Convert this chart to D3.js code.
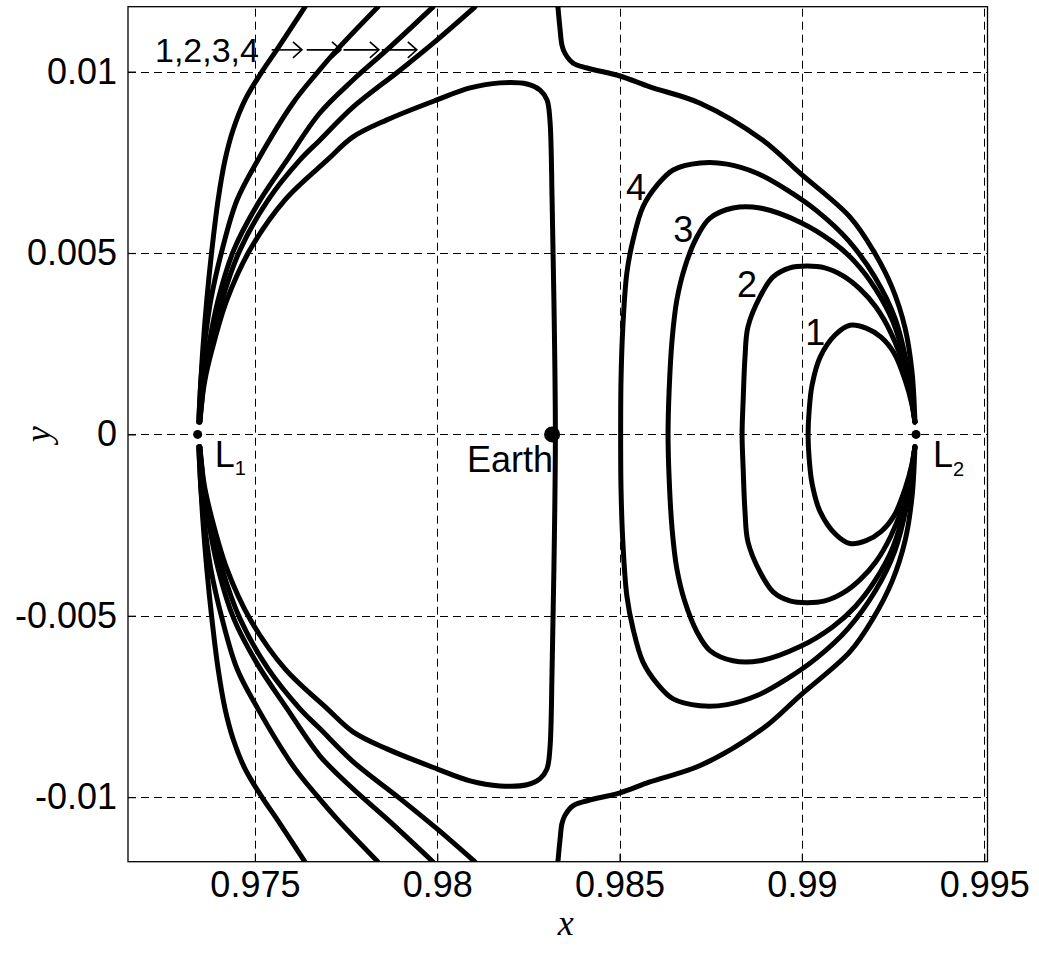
<!DOCTYPE html>
<html><head><meta charset="utf-8">
<script src="https://cdn.jsdelivr.net/npm/d3@7"></script>
<style>body{margin:0;background:#fff} svg{display:block}</style>
</head><body><svg id="c" width="1039" height="953"></svg>
<script>
// ---------- data ----------
const xDomain = [0.97152, 0.99509];
const yDomain = [-0.01178, 0.01179];
const xTicks = [0.975, 0.98, 0.985, 0.99, 0.995];
const yTicks = [-0.01, -0.005, 0, 0.005, 0.01];
const xTickLabels = ["0.975", "0.98", "0.985", "0.99", "0.995"];
const yTickLabels = ["-0.01", "-0.005", "0", "0.005", "0.01"];

// curves leaving L1 towards the top / bottom edge (labelled 1,2,3,4 by the arrows)
const l1UpperA = [[0.97346,0.00034],[0.97349,0.00095],[0.97352,0.00150],[0.97357,0.00232],[0.97368,0.00370],[0.97382,0.00508],[0.97399,0.00646],[0.97418,0.00756],[0.97440,0.00839],[0.97473,0.00922],[0.97522,0.01004],[0.97560,0.01060],[0.97637,0.01178]];
const l1UpperB = [[0.97346,0.00034],[0.97349,0.00095],[0.97352,0.00150],[0.97360,0.00232],[0.97379,0.00370],[0.97410,0.00508],[0.97451,0.00646],[0.97508,0.00756],[0.97604,0.00913],[0.97670,0.00996],[0.97725,0.01060],[0.97837,0.01178]];
const l1UpperC = [[0.97349,0.00034],[0.97352,0.00095],[0.97357,0.00150],[0.97371,0.00232],[0.97399,0.00370],[0.97442,0.00508],[0.97506,0.00632],[0.97588,0.00756],[0.97678,0.00886],[0.97769,0.00977],[0.97862,0.01060],[0.97988,0.01178]];
const l1UpperD = [[0.97349,0.00034],[0.97355,0.00095],[0.97360,0.00150],[0.97377,0.00232],[0.97410,0.00370],[0.97459,0.00508],[0.97536,0.00646],[0.97623,0.00756],[0.97678,0.00811],[0.97769,0.00902],[0.97898,0.01004],[0.97999,0.01087],[0.98103,0.01178]];
const l1LowerA = [[0.97346,-0.00034],[0.97349,-0.00095],[0.97352,-0.00150],[0.97357,-0.00232],[0.97368,-0.00370],[0.97382,-0.00508],[0.97399,-0.00646],[0.97418,-0.00756],[0.97440,-0.00839],[0.97473,-0.00922],[0.97522,-0.01004],[0.97560,-0.01060],[0.97637,-0.01178]];
const l1LowerB = [[0.97346,-0.00034],[0.97349,-0.00095],[0.97352,-0.00150],[0.97360,-0.00232],[0.97379,-0.00370],[0.97410,-0.00508],[0.97451,-0.00646],[0.97508,-0.00756],[0.97604,-0.00913],[0.97670,-0.00996],[0.97725,-0.01060],[0.97837,-0.01178]];
const l1LowerC = [[0.97349,-0.00034],[0.97352,-0.00095],[0.97357,-0.00150],[0.97371,-0.00232],[0.97399,-0.00370],[0.97442,-0.00508],[0.97506,-0.00632],[0.97588,-0.00756],[0.97678,-0.00886],[0.97769,-0.00977],[0.97862,-0.01060],[0.97988,-0.01178]];
const l1LowerD = [[0.97349,-0.00034],[0.97355,-0.00095],[0.97360,-0.00150],[0.97377,-0.00232],[0.97410,-0.00370],[0.97459,-0.00508],[0.97536,-0.00646],[0.97623,-0.00756],[0.97678,-0.00811],[0.97769,-0.00902],[0.97898,-0.01004],[0.97999,-0.01087],[0.98103,-0.01178]];

// closed region L1 - Earth
const earthRegion = [[0.97349,0.00034],[0.97355,0.00095],[0.97363,0.00150],[0.97382,0.00232],[0.97423,0.00370],[0.97486,0.00508],[0.97582,0.00646],[0.97698,0.00756],[0.97769,0.00820],[0.97862,0.00867],[0.97999,0.00922],[0.98090,0.00955],[0.98172,0.00969],[0.98246,0.00966],[0.98282,0.00949],[0.98301,0.00922],[0.98309,0.00867],[0.98315,0.00646],[0.98320,0.00370],[0.98324,0],
  [0.98320,-0.00370],[0.98315,-0.00646],[0.98309,-0.00867],[0.98301,-0.00922],[0.98282,-0.00949],[0.98246,-0.00966],[0.98172,-0.00969],[0.98090,-0.00955],[0.97999,-0.00922],[0.97862,-0.00867],[0.97769,-0.00820],[0.97698,-0.00756],[0.97582,-0.00646],[0.97486,-0.00508],[0.97423,-0.00370],[0.97382,-0.00232],[0.97363,-0.00150],[0.97355,-0.00095],[0.97349,-0.00034]];

// outer curve through L2
const outerUpper = [[0.98331,0.01178],[0.98337,0.01115],[0.98342,0.01073],[0.98350,0.01051],[0.98372,0.01024],[0.98411,0.01010],[0.98501,0.00988],[0.98583,0.00958],[0.98721,0.00913],[0.98893,0.00811],[0.98995,0.00720],[0.99132,0.00599],[0.99195,0.00508],[0.99247,0.00406],[0.99283,0.00293],[0.99302,0.00172],[0.99310,0.00034]];
const outerLower = [[0.98331,-0.01178],[0.98337,-0.01115],[0.98342,-0.01073],[0.98350,-0.01051],[0.98372,-0.01024],[0.98411,-0.01010],[0.98501,-0.00988],[0.98583,-0.00958],[0.98721,-0.00913],[0.98893,-0.00811],[0.98995,-0.00720],[0.99132,-0.00599],[0.99195,-0.00508],[0.99247,-0.00406],[0.99283,-0.00293],[0.99302,-0.00172],[0.99310,-0.00034]];

// loops 1..4 around L2
const loop1 = [[0.99310,0.00034],[0.99302,0.00081],[0.99283,0.00150],[0.99253,0.00224],[0.99217,0.00268],[0.99176,0.00293],[0.99132,0.00301],[0.99091,0.00274],[0.99050,0.00213],[0.99028,0.00136],[0.99020,0.00067],[0.99017,0],
  [0.99020,-0.00067],[0.99028,-0.00136],[0.99050,-0.00213],[0.99091,-0.00274],[0.99132,-0.00301],[0.99176,-0.00293],[0.99217,-0.00268],[0.99253,-0.00224],[0.99283,-0.00150],[0.99302,-0.00081],[0.99310,-0.00034]];
const loop2 = [[0.99310,0.00034],[0.99283,0.00177],[0.99244,0.00280],[0.99203,0.00351],[0.99159,0.00401],[0.99113,0.00437],[0.99063,0.00459],[0.99014,0.00464],[0.98967,0.00459],[0.98921,0.00434],[0.98885,0.00379],[0.98852,0.00296],[0.98844,0.00213],[0.98839,0.00095],[0.98836,0],
  [0.98839,-0.00095],[0.98844,-0.00213],[0.98852,-0.00296],[0.98885,-0.00379],[0.98921,-0.00434],[0.98967,-0.00459],[0.99014,-0.00464],[0.99063,-0.00459],[0.99113,-0.00437],[0.99159,-0.00401],[0.99203,-0.00351],[0.99244,-0.00280],[0.99283,-0.00177],[0.99310,-0.00034]];
const loop3 = [[0.99310,0.00034],[0.99288,0.00177],[0.99250,0.00310],[0.99200,0.00404],[0.99146,0.00475],[0.99085,0.00530],[0.98995,0.00585],[0.98885,0.00624],[0.98811,0.00624],[0.98748,0.00596],[0.98712,0.00544],[0.98679,0.00461],[0.98657,0.00370],[0.98644,0.00260],[0.98636,0.00122],[0.98633,0],
  [0.98636,-0.00122],[0.98644,-0.00260],[0.98657,-0.00370],[0.98679,-0.00461],[0.98712,-0.00544],[0.98748,-0.00596],[0.98811,-0.00624],[0.98885,-0.00624],[0.98995,-0.00585],[0.99085,-0.00530],[0.99146,-0.00475],[0.99200,-0.00404],[0.99250,-0.00310],[0.99288,-0.00177],[0.99310,-0.00034]];
const loop4 = [[0.99310,0.00034],[0.99291,0.00177],[0.99255,0.00321],[0.99200,0.00434],[0.99126,0.00536],[0.99041,0.00616],[0.98959,0.00674],[0.98877,0.00720],[0.98795,0.00745],[0.98721,0.00748],[0.98647,0.00729],[0.98603,0.00687],[0.98564,0.00627],[0.98537,0.00536],[0.98520,0.00445],[0.98509,0.00296],[0.98504,0.00150],[0.98503,0],
  [0.98504,-0.00150],[0.98509,-0.00296],[0.98520,-0.00445],[0.98537,-0.00536],[0.98564,-0.00627],[0.98603,-0.00687],[0.98647,-0.00729],[0.98721,-0.00748],[0.98795,-0.00745],[0.98877,-0.00720],[0.98959,-0.00674],[0.99041,-0.00616],[0.99126,-0.00536],[0.99200,-0.00434],[0.99255,-0.00321],[0.99291,-0.00177],[0.99310,-0.00034]];

// special points
const pointNames = ["L1", "Earth", "L2"];
const pointX = [0.97343, 0.98315, 0.99313];
const pointY = [0, 0, 0];

// loop number labels (left/baseline of label text, data units)
const loopLabels = ["1", "2", "3", "4"];
const loopLabelX = [0.99009, 0.98822, 0.98647, 0.98518];
const loopLabelY = [0.00246, 0.00379, 0.00530, 0.00646];

// arrow annotation
const arrowText = "1,2,3,4";
const arrowTextX = 0.97226;
const arrowStartX = [0.97546, 0.97642, 0.97743, 0.97848];
const arrowEndX   = [0.97629, 0.97736, 0.97840, 0.97944];
const arrowY = 0.01060;

// ---------- drawing ----------
const svg = d3.select("#c");
const plot = {left:128, right:987.5, top:6.7, bottom:861.7};
const x = d3.scaleLinear().domain(xDomain).range([plot.left, plot.right]);
const y = d3.scaleLinear().domain(yDomain).range([plot.bottom, plot.top]);
const FONT = "'Liberation Sans', Arial, sans-serif";
const FS = 36;

svg.append("rect").attr("width",1039).attr("height",953).attr("fill","#fff");

svg.append("defs").append("clipPath").attr("id","clip")
  .append("rect").attr("x",plot.left).attr("y",plot.top)
  .attr("width",plot.right-plot.left).attr("height",plot.bottom-plot.top);

// grid
const grid = svg.append("g").attr("stroke","#000").attr("stroke-width",1).attr("stroke-dasharray","8,5");
grid.selectAll(".gx").data(xTicks).join("line")
  .attr("x1",d=>Math.round(x(d))+0.5).attr("x2",d=>Math.round(x(d))+0.5)
  .attr("y1",plot.bottom).attr("y2",plot.top);
grid.selectAll(".gy").data(yTicks).join("line")
  .attr("y1",d=>Math.round(y(d))+0.5).attr("y2",d=>Math.round(y(d))+0.5)
  .attr("x1",plot.left).attr("x2",plot.right);

// axes
const xAxis = d3.axisBottom(x).tickValues(xTicks).tickFormat((d,i)=>xTickLabels[i]).tickSizeInner(-8).tickSizeOuter(0).tickPadding(10);
const yAxis = d3.axisLeft(y).tickValues(yTicks).tickFormat((d,i)=>yTickLabels[i]).tickSizeInner(-8).tickSizeOuter(0).tickPadding(11);
const gx = svg.append("g").attr("transform",`translate(0,${plot.bottom})`).call(xAxis);
const gy = svg.append("g").attr("transform",`translate(${plot.left},0)`).call(yAxis);
[gx,gy].forEach(g=>{
  g.select(".domain").remove();
  g.selectAll("line").attr("stroke","#000").attr("stroke-width",1.2);
  g.selectAll("text").attr("font-family",FONT).attr("font-size",FS).attr("fill","#000");
});
// box
svg.append("rect").attr("x",plot.left).attr("y",plot.top)
  .attr("width",plot.right-plot.left).attr("height",plot.bottom-plot.top)
  .attr("fill","none").attr("stroke","#000").attr("stroke-width",1.3);

// curves
const line = d3.line().x(d=>x(d[0])).y(d=>y(d[1])).curve(d3.curveCatmullRom.alpha(0.5));
const curves = [l1UpperA,l1UpperB,l1UpperC,l1UpperD,l1LowerA,l1LowerB,l1LowerC,l1LowerD,
  earthRegion,outerUpper,outerLower,loop1,loop2,loop3,loop4];
svg.append("g").attr("clip-path","url(#clip)")
  .selectAll("path").data(curves).join("path")
  .attr("d",line).attr("fill","none").attr("stroke","#000")
  .attr("stroke-width",5).attr("stroke-linejoin","round").attr("stroke-linecap","round");

// points
const pts = pointNames.map((n,i)=>({n, x:pointX[i], y:pointY[i]}));
svg.append("g").selectAll("circle").data(pts).join("circle")
  .attr("cx",d=>x(d.x)).attr("cy",d=>y(d.y))
  .attr("r",d=>d.n==="Earth"?8:4.5).attr("fill","#000");

// point labels
const t1 = svg.append("text").attr("x",x(pointX[0])+17).attr("y",y(0)+33)
  .attr("font-family",FONT).attr("font-size",FS);
t1.append("tspan").text("L");
t1.append("tspan").attr("font-size",20).attr("dy",8).text("1");
const t2 = svg.append("text").attr("x",x(pointX[2])+17).attr("y",y(0)+33)
  .attr("font-family",FONT).attr("font-size",FS);
t2.append("tspan").text("L");
t2.append("tspan").attr("font-size",20).attr("dy",9).text("2");
svg.append("text").attr("x",x(pointX[1])+1).attr("y",y(0)+38).attr("text-anchor","end")
  .attr("font-family",FONT).attr("font-size",FS).text("Earth");

// loop labels
svg.append("g").selectAll("text").data(loopLabels).join("text")
  .attr("x",(d,i)=>x(loopLabelX[i])).attr("y",(d,i)=>y(loopLabelY[i]))
  .attr("font-family",FONT).attr("font-size",FS).text(d=>d);

// arrow annotation
svg.append("text").attr("x",x(arrowTextX)).attr("y",y(arrowY)+12)
  .attr("font-family",FONT).attr("font-size",34).text(arrowText);
const ag = svg.append("g").attr("stroke","#000").attr("stroke-width",1.6).attr("fill","none");
arrowEndX.forEach((e,i)=>{
  const xs = x(arrowStartX[i]), xe = x(e), yy = y(arrowY);
  ag.append("line").attr("x1",xs).attr("x2",xe).attr("y1",yy).attr("y2",yy);
  ag.append("path").attr("d",`M${xe-9},${yy-8} L${xe},${yy} L${xe-9},${yy+8}`);
});

// axis titles
svg.append("text").attr("x",(plot.left+plot.right)/2+8).attr("y",935).attr("text-anchor","middle")
  .attr("font-family","'Liberation Serif','Times New Roman',serif").attr("font-style","italic")
  .attr("font-size",36).text("x");
svg.append("text").attr("transform",`translate(50,${y(0)}) rotate(-90)`).attr("text-anchor","middle")
  .attr("font-family","'Liberation Serif','Times New Roman',serif").attr("font-style","italic")
  .attr("font-size",36).text("y");
</script></body></html>
